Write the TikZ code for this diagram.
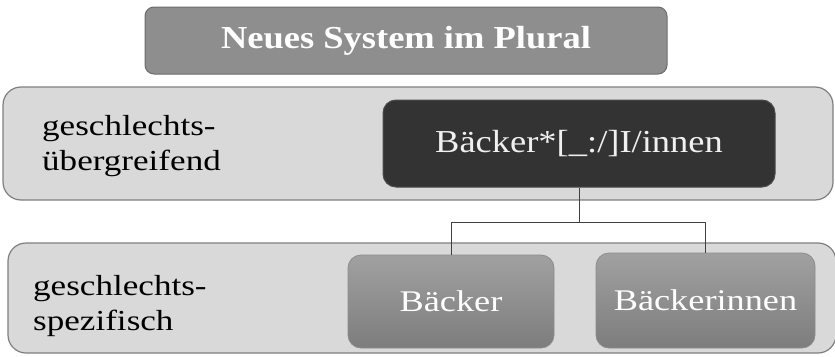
\documentclass[tikz,border=0pt]{standalone}
\usepackage{fontspec}
\setmainfont{Liberation Serif}
\newfontfamily\widetext[FakeStretch=1.21]{Liberation Serif}
\newfontfamily\midtext[FakeStretch=1.14]{Liberation Serif}
\definecolor{bandfill}{HTML}{D9D9D9}
\definecolor{bandline}{HTML}{7F7F7F}
\definecolor{darkfill}{HTML}{333333}
\definecolor{titlefill}{HTML}{8E8E8E}
\definecolor{linkcol}{HTML}{404040}
\tikzset{
  band/.style={draw=bandline, line width=1.2pt, fill=bandfill, rounded corners=18pt},
  titlebox/.style={draw=bandline!85!black, line width=1pt, fill=titlefill, rounded corners=9pt,
    inner sep=0pt, text=white, font=\midtext\bfseries\fontsize{32}{36}\selectfont},
  darkbox/.style={draw=black!70, line width=1pt, fill=darkfill, rounded corners=13pt,
    inner sep=0pt, text=white!94!black, font=\midtext\fontsize{32}{36}\selectfont},
  graybox/.style={draw=black!45, line width=0.8pt, rounded corners=13pt,
    top color=black!37, bottom color=black!51, inner sep=0pt,
    text=white, font=\widetext\fontsize{30}{34}\selectfont},
  sidelabel/.style={anchor=west, align=left, inner sep=0pt,
    font=\widetext\fontsize{29}{35}\selectfont},
  link/.style={draw=linkcol, line width=1pt}
}
\begin{document}
\begin{tikzpicture}[x=1pt, y=-1pt]
  \useasboundingbox (0,0) rectangle (835,356);

  % title bar
  \node[titlebox, minimum width=522pt, minimum height=67pt] (title) at (406,40.5) {Neues System im Plural};

  % upper band: gender-neutral form
  \path[band] (3,87) rectangle (833,200);
  \node[sidelabel] (upperlabel) at (42,146) {geschlechts-\\übergreifend};
  \node[darkbox, minimum width=392pt, minimum height=87pt] (neutral) at (579,143.5) {Bäcker*[\_:/]I/innen};

  % lower band: gender-specific forms
  \begin{scope}
    \clip (0,0) rectangle (835,356);
    \path[band] (8,243) rectangle (836,353);
  \end{scope}
  \node[sidelabel] (lowerlabel) at (33,306) {geschlechts-\\spezifisch};
  \node[graybox, minimum width=206pt, minimum height=93pt] (masc) at (451,301.5) {Bäcker};
  \node[graybox, minimum width=219pt, minimum height=95pt] (fem) at (705.5,300.5) {Bäckerinnen};

  % connectors
  \coordinate (split) at (neutral.south |- 0,222);
  \draw[link] (neutral.south) -- (split) -| (masc.north);
  \draw[link] (split) -| (fem.north);
\end{tikzpicture}
\end{document}
